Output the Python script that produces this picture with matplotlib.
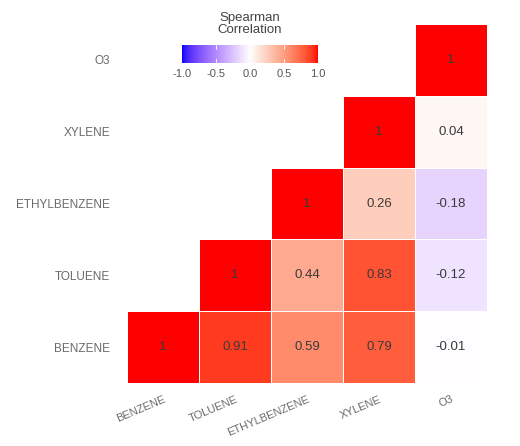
import numpy as np
import matplotlib
matplotlib.use("Agg")
import matplotlib.pyplot as plt
from matplotlib.colors import ListedColormap

plt.rcParams['font.family'] = ['Liberation Sans', 'DejaVu Sans']

variables = ["BENZENE", "TOLUENE", "ETHYLBENZENE", "XYLENE", "O3"]

# lower-triangle Spearman correlations, row i = variables[i], columns 0..i
corr_benzene = [1.0]
corr_toluene = [0.91, 1.0]
corr_ethylbenzene = [0.59, 0.44, 1.0]
corr_xylene = [0.79, 0.83, 0.26, 1.0]
corr_o3 = [-0.01, -0.12, -0.18, 0.04, 1.0]
rows = [corr_benzene, corr_toluene, corr_ethylbenzene, corr_xylene, corr_o3]

n = len(variables)
mat = np.full((n, n), np.nan)
for i, r in enumerate(rows):
    for j, v in enumerate(r):
        mat[i, j] = v
        mat[j, i] = v

# grid[row=y, col=x]: y axis from BENZENE (bottom) to O3 (top)
# a cell is shown where x >= y (upper-right triangle incl. diagonal)
grid = np.full((n, n), np.nan)
for y in range(n):
    for x in range(n):
        if x >= y:
            grid[y, x] = mat[y, x]
grid_m = np.ma.masked_invalid(grid)


# --- diverging blue-white-red palette interpolated in CIELAB ---
def srgb_to_lab(rgb):
    rgb = np.asarray(rgb, float)
    lin = np.where(rgb <= 0.04045, rgb / 12.92, ((rgb + 0.055) / 1.055) ** 2.4)
    M = np.array([[0.4124, 0.3576, 0.1805],
                  [0.2126, 0.7152, 0.0722],
                  [0.0193, 0.1192, 0.9505]])
    xyz = M @ lin / np.array([0.95047, 1.0, 1.08883])
    f = np.where(xyz > 0.008856, np.cbrt(xyz), 7.787 * xyz + 16 / 116)
    return np.array([116 * f[1] - 16, 500 * (f[0] - f[1]), 200 * (f[1] - f[2])])


def lab_to_srgb(lab):
    L, a, b = lab
    fy = (L + 16) / 116
    fx = fy + a / 500
    fz = fy - b / 200
    f = np.array([fx, fy, fz])
    xyz = np.where(f ** 3 > 0.008856, f ** 3, (f - 16 / 116) / 7.787)
    xyz = xyz * np.array([0.95047, 1.0, 1.08883])
    Minv = np.array([[3.2406, -1.5372, -0.4986],
                     [-0.9689, 1.8758, 0.0415],
                     [0.0557, -0.2040, 1.0570]])
    lin = Minv @ xyz
    lin = np.clip(lin, 0, 1)
    rgb = np.where(lin <= 0.0031308, 12.92 * lin, 1.055 * lin ** (1 / 2.4) - 0.055)
    return np.clip(rgb, 0, 1)


low, mid, high = srgb_to_lab([0, 0, 1]), srgb_to_lab([1, 1, 1]), srgb_to_lab([1, 0, 0])
samples = []
for t in np.linspace(-1, 1, 512):
    if t < 0:
        lab = mid + (low - mid) * (-t)
    else:
        lab = mid + (high - mid) * t
    samples.append(lab_to_srgb(lab))
cmap = ListedColormap(samples, name="corr_lab")

fig = plt.figure(figsize=(5.2, 4.46), dpi=100)
ax = fig.add_axes([127/520, 1-383/446, 360/520, 359/446])
ax.pcolormesh(np.arange(n+1)-0.5, np.arange(n+1)-0.5, grid_m, cmap=cmap,
              vmin=-1, vmax=1, edgecolor="white", linewidth=0.5)
for y in range(n):
    for x in range(n):
        if x >= y:
            v = grid[y, x]
            txt = "1" if v == 1 else f"{v:.2f}"
            ax.text(x, y, txt, ha="center", va="center", fontsize=9.5, color="#3a3a3a")

ax.set_xlim(-0.5, n-0.5)
ax.set_ylim(-0.5, n-0.5)
ax.set_xticks(range(n))
ax.set_yticks(range(n))
ax.set_xticklabels(variables, rotation=23, ha="right", rotation_mode="anchor",
                   fontsize=8, color="#6a6a6a")
ax.set_yticklabels(variables, fontsize=8.5, color="#6a6a6a")
ax.tick_params(axis="y", length=0, pad=12)
ax.tick_params(axis="x", length=0, pad=8)
for s in ax.spines.values():
    s.set_visible(False)

# colour legend
cax = fig.add_axes([182/520, 1-63/446, 136/520, 18/446])
grad = np.linspace(-1, 1, 256).reshape(1, -1)
cax.imshow(grad, aspect="auto", cmap=cmap, vmin=-1, vmax=1, extent=[-1, 1, 0, 1])
cax.set_yticks([])
ticks = [-1.0, -0.5, 0.0, 0.5, 1.0]
cax.set_xticks(ticks)
cax.set_xticklabels([f"{t:.1f}" for t in ticks], fontsize=8, color="#555555")
cax.tick_params(axis="x", length=0, pad=4)
for t in ticks[1:-1]:
    cax.axvline(t, ymin=0, ymax=0.2, color="white", lw=0.6)
    cax.axvline(t, ymin=0.8, ymax=1, color="white", lw=0.6)
for s in cax.spines.values():
    s.set_visible(False)
fig.text(250/520, 1-24/446, "Spearman\nCorrelation", ha="center", va="center",
         fontsize=9.5, color="#444444", linespacing=0.9)

fig.savefig("out.png", dpi=100)
